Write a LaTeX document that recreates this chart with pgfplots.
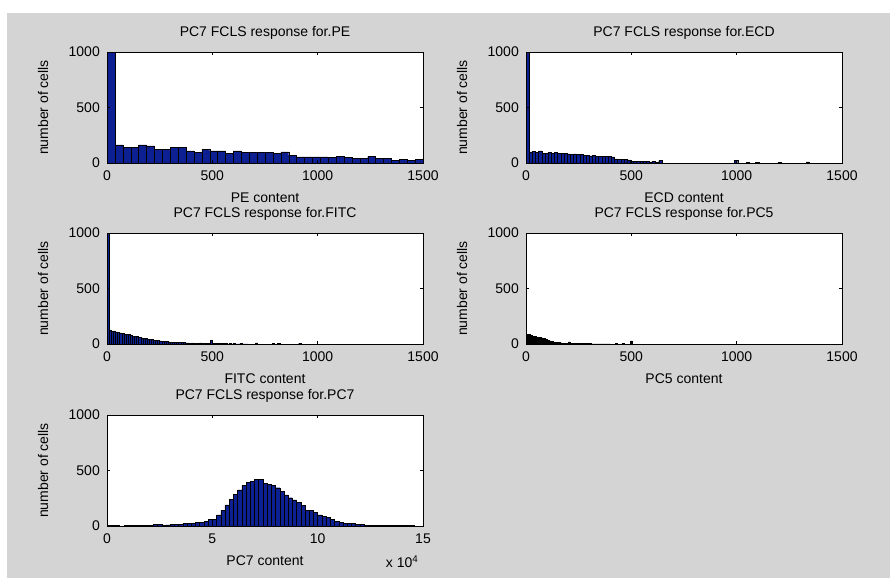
\documentclass[border=0pt]{standalone}
\usepackage{fontspec}
\setmainfont{Liberation Sans}
\usepackage{pgfplots}
\pgfplotsset{compat=1.18}
\definecolor{figgray}{RGB}{212,212,212}
\definecolor{barblue}{RGB}{12,32,145}
\pgfplotsset{
  mlab/.style={
    scale only axis, width=316pt, height=111pt,
    anchor=north west,
    axis background/.style={fill=white},
    axis on top,
    axis line style={black, line width=0.5pt},
    tick align=inside, major tick length=3pt,
    tick style={black, line width=0.5pt},
    ymin=0, ymax=1000, ytick={0,500,1000},
    xmin=0, xmax=1500, xtick={0,500,1000,1500},
    font=\fontsize{14}{16}\selectfont,
    /pgf/number format/assume math mode=true,
    /pgf/number format/1000 sep={},
    scaled ticks=false,
    x tick label as interval=false,
    xticklabel style={anchor=base, yshift=-17pt, inner sep=0pt},
    yticklabel style={anchor=east, xshift=-7pt, inner sep=0pt},
    title style={at={(axis description cs:0.5,1.09)}, anchor=base, inner sep=0pt},
    xlabel style={at={(axis description cs:0.5,-0.36)}, anchor=base, inner sep=0pt},
    ylabel style={at={(axis description cs:-0.2025,0.5)}, anchor=center, inner sep=0pt},
    ylabel={number of cells},
  },
  hb/.style={ybar interval, fill=barblue, draw=black, line width=0.4pt},
}
\begin{document}
\begin{tikzpicture}[x=1pt,y=1pt]
\useasboundingbox (0,0) rectangle (890,-578);
\fill[white] (0,0) rectangle (890,-578);
\fill[figgray] (7,-13) rectangle (890,-578);

% PE
\begin{axis}[mlab, at={(107pt,-52pt)}, title={PC7 FCLS response for.PE}, xlabel={PE content}]
\addplot[hb] coordinates {
(0,2500) (37.5,164) (75,140) (112.5,140) (150,164) (187.5,155) (225,120) (262.5,120)
(300,143) (337.5,143) (375,110) (412.5,98) (450,120) (487.5,110) (525,110) (562.5,90)
(600,110) (637.5,98) (675,98) (712.5,98) (750,99) (787.5,88) (825,100) (862.5,72)
(900,56) (937.5,56) (975,55) (1012.5,55) (1050,48) (1087.5,58) (1125,50) (1162.5,45)
(1200,40) (1237.5,58) (1275,40) (1312.5,45) (1350,25) (1387.5,30) (1425,25) (1462.5,33)
(1500,33)};
\end{axis}

% ECD
\begin{axis}[mlab, at={(526pt,-52pt)}, title={PC7 FCLS response for.ECD}, xlabel={ECD content}]
\addplot[hb] coordinates {
(0,2000) (15,100) (30,105) (45,95) (60,110) (75,85) (90,90) (105,95) (120,85) (135,95)
(150,90) (165,88) (180,85) (195,82) (210,80) (225,82) (240,78) (255,75) (270,68) (285,66)
(300,64) (315,66) (330,60) (345,62) (360,58) (375,60) (390,58) (405,55) (420,38) (435,34)
(450,30) (465,32) (480,28) (495,16) (510,15) (525,16) (540,14) (555,15) (570,12) (585,10)
(600,12) (615,8) (630,22) (645,0) (990,25) (1005,0) (1045,8) (1060,0) (1090,8) (1105,0)
(1195,8) (1210,0) (1330,10) (1345,0)};
\end{axis}

% FITC
\begin{axis}[mlab, at={(107pt,-233pt)}, title={PC7 FCLS response for.FITC}, xlabel={FITC content}]
\addplot[hb] coordinates {
(0,3000) (10,120) (20,115) (30,118) (40,110) (50,105) (60,100) (70,95) (80,90) (90,88)
(100,85) (110,80) (120,72) (130,70) (140,66) (150,60) (160,55) (170,52) (180,48) (190,45)
(200,44) (210,40) (220,36) (230,33) (240,30) (250,28) (260,24) (270,22) (280,24) (290,20)
(300,18) (310,16) (320,18) (330,14) (340,15) (350,12) (360,13) (370,10) (380,11) (390,9)
(400,10) (410,8) (420,9) (430,7) (440,10) (450,6) (460,5) (470,6) (480,5) (490,30)
(500,5) (510,4) (520,4) (530,3) (540,3) (550,4) (560,3) (570,2) (580,3) (590,2)
(600,3) (610,2) (620,2) (630,3) (640,2) (650,2) (660,2) (670,0) (705,10) (715,0)
(785,8) (795,0) (810,8) (820,0) (910,8) (920,0) (930,0)};
\end{axis}

% PC5
\begin{axis}[mlab, at={(526pt,-233pt)}, title={PC7 FCLS response for.PC5}, xlabel={PC5 content}]
\addplot[hb, fill=black] coordinates {
(0,90) (10,85) (20,75) (30,70) (40,66) (50,62) (60,60) (70,55) (80,48) (90,42)
(100,32) (110,28) (120,24) (130,18) (140,15) (150,12) (160,10) (170,9) (180,8) (190,9)
(200,20) (210,8) (220,6) (230,5) (240,5) (250,4) (260,4) (270,3) (280,3) (290,3)
(300,3) (310,2) (320,2) (330,2) (340,2) (350,2) (360,2) (370,2) (380,2) (390,2)
(400,0) (425,8) (435,0) (455,6) (465,0) (495,28) (505,0) (510,0)};
\end{axis}

% PC7
\begin{axis}[mlab, at={(107pt,-415pt)}, title={PC7 FCLS response for.PC7}, xlabel={PC7 content},
  xmin=0, xmax=15, xtick={0,5,10,15},
  extra description/.code={\node[anchor=base, font=\fontsize{14}{16}\selectfont] at (0.934,-0.375) {x 10\textsuperscript{4}};}]
\addplot[hb] coordinates {
(0,8) (0.2,8) (0.4,8) (0.6,0) (0.8,8) (1.0,8) (1.2,8) (1.4,9) (1.6,9) (1.8,9)
(2.0,9) (2.2,15) (2.4,15) (2.6,9) (2.8,10) (3.0,12) (3.2,15) (3.4,18) (3.6,24) (3.8,22)
(4.0,22) (4.2,34) (4.4,30) (4.6,42) (4.8,58) (5.0,62) (5.2,100) (5.4,140) (5.6,190) (5.8,240)
(6.0,285) (6.2,325) (6.4,365) (6.6,395) (6.8,400) (7.0,418) (7.2,418) (7.4,385) (7.6,375) (7.8,365)
(8.0,345) (8.2,310) (8.4,280) (8.6,255) (8.8,235) (9.0,210) (9.2,185) (9.4,140) (9.6,143) (9.8,120)
(10.0,100) (10.2,90) (10.4,75) (10.6,60) (10.8,45) (11.0,32) (11.2,25) (11.4,24) (11.6,22) (11.8,18)
(12.0,12) (12.2,8) (12.4,8) (12.6,8) (12.8,8) (13.0,8) (13.2,8) (13.4,8) (13.6,8) (13.8,8)
(14.0,8) (14.2,8) (14.4,8) (14.6,8)};
\end{axis}
\end{tikzpicture}
\end{document}
